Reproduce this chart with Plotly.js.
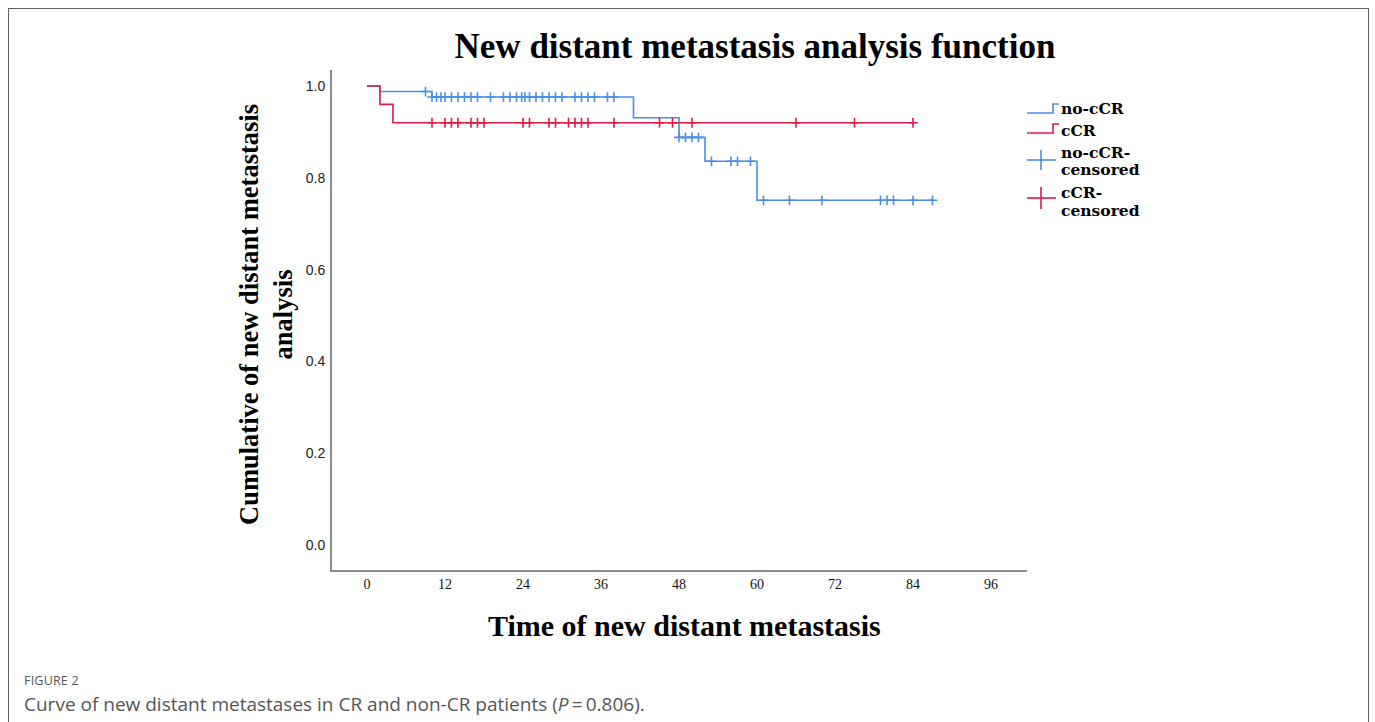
<!DOCTYPE html>
<html>
<head>
<meta charset="utf-8">
<script src="https://cdn.plot.ly/plotly-3.0.1.min.js"></script>
<style>
  html, body { margin:0; padding:0; background:#fff; width:1375px; height:722px; overflow:hidden; }
  #frame { position:absolute; left:8px; top:8px; width:1361px; height:760px; border:1px solid #626262; box-sizing:border-box; }
  #chart { position:absolute; left:0; top:0; width:1375px; height:722px; }
  .cap { position:absolute; left:24px; font-family:"Open Sans","Noto Sans",sans-serif; color:#555; white-space:nowrap; line-height:1.2; }
  #fig { top:673px; font-size:12.5px; letter-spacing:0.2px; }
  #txt { top:693px; font-size:19px; }
</style>
</head>
<body>
<div id="frame"></div>
<div id="chart"></div>
<div id="fig" class="cap">FIGURE 2</div>
<div id="txt" class="cap">Curve of new distant metastases in CR and non-CR patients (<i>P</i>&#8201;=&#8201;0.806).</div>
<script>
// ---- data ----
const noCcrEventTimes = [0, 2, 10, 41, 48, 52, 60, 87];
const noCcrSurvival   = [1.0, 0.988, 0.976, 0.931, 0.888, 0.836, 0.751, 0.751];
const noCcrCensored   = [9, 10, 10.7, 11.4, 12, 13, 14, 15, 16, 17, 19, 21, 22, 23, 23.8, 24.3, 25, 26, 27, 28, 29, 30, 32, 33, 34, 35, 37, 38, 48, 49, 50, 51, 53, 56, 57, 59, 61, 65, 70, 79, 80, 81, 84, 87];

const ccrEventTimes = [0, 2, 4, 84];
const ccrSurvival   = [1.0, 0.96, 0.92, 0.92];
const ccrCensored   = [10, 12, 13, 14, 16, 17, 18, 24, 25, 28, 29, 31, 32, 33, 34, 38, 45, 47, 50, 66, 75, 84];

const xTicks = [0, 12, 24, 36, 48, 60, 72, 84, 96];
const yTicks = [0.0, 0.2, 0.4, 0.6, 0.8, 1.0];

const BLUE = '#4a8fe2';
const RED  = '#dc1b48';

function levelAt(times, surv, t) {
  let v = surv[0];
  for (let i = 0; i < times.length; i++) { if (times[i] <= t) v = surv[i]; }
  return v;
}

const traces = [
  { x: noCcrEventTimes, y: noCcrSurvival, mode: 'lines', line: {shape: 'hv', color: BLUE, width: 1.6}, hoverinfo: 'skip', showlegend: false },
  { x: ccrEventTimes, y: ccrSurvival, mode: 'lines', line: {shape: 'hv', color: RED, width: 1.6}, hoverinfo: 'skip', showlegend: false },
  { x: noCcrCensored, y: noCcrCensored.map(t => levelAt(noCcrEventTimes, noCcrSurvival, t)), mode: 'markers',
    marker: {symbol: 'cross-thin', size: 7, line: {color: BLUE, width: 1.6}}, showlegend: false },
  { x: ccrCensored, y: ccrCensored.map(t => levelAt(ccrEventTimes, ccrSurvival, t)), mode: 'markers',
    marker: {symbol: 'cross-thin', size: 7, line: {color: RED, width: 1.6}}, showlegend: false }
];

// layout helpers: pixel -> paper
const L = 332, R = 1027, T = 70, B = 570;
const xp = px => (px - L) / (R - L);
const yp = py => (B - py) / (B - T);

const serifBold = {family: '"Liberation Serif","Times New Roman",serif', color: '#000'};
const legFont = {family: '"DejaVu Serif","Liberation Serif",serif', size: 15.5, color: '#000'};

const shapes = [
  // legend step symbols
  {type: 'path', xref: 'paper', yref: 'paper', path: `M ${xp(1027)} ${yp(113)} L ${xp(1053)} ${yp(113)} L ${xp(1053)} ${yp(104)} L ${xp(1059)} ${yp(104)}`, line: {color: BLUE, width: 1.6}},
  {type: 'path', xref: 'paper', yref: 'paper', path: `M ${xp(1027)} ${yp(133)} L ${xp(1053)} ${yp(133)} L ${xp(1053)} ${yp(124)} L ${xp(1059)} ${yp(124)}`, line: {color: RED, width: 1.6}},
  // legend censor crosses
  {type: 'line', xref: 'paper', yref: 'paper', x0: xp(1027), x1: xp(1056), y0: yp(160), y1: yp(160), line: {color: BLUE, width: 1.6}},
  {type: 'line', xref: 'paper', yref: 'paper', x0: xp(1041), x1: xp(1041), y0: yp(150), y1: yp(170), line: {color: BLUE, width: 1.6}},
  {type: 'line', xref: 'paper', yref: 'paper', x0: xp(1027), x1: xp(1056), y0: yp(198), y1: yp(198), line: {color: RED, width: 1.6}},
  {type: 'line', xref: 'paper', yref: 'paper', x0: xp(1041), x1: xp(1041), y0: yp(187), y1: yp(209), line: {color: RED, width: 1.6}}
];

function legText(text, py) {
  return {text: '<b>' + text + '</b>', xref: 'paper', yref: 'paper', x: xp(1059), y: yp(py),
          xanchor: 'left', yanchor: 'middle', showarrow: false, font: legFont, align: 'left'};
}

const annotations = [
  legText('no-cCR', 109),
  legText('cCR', 130),
  legText('no-cCR-', 152),
  legText('censored', 170),
  legText('cCR-', 192),
  legText('censored', 210),
  {text: '<b>Time of new distant metastasis</b>', xref: 'paper', yref: 'paper', x: xp(684), y: yp(625),
   xanchor: 'center', yanchor: 'middle', showarrow: false, font: Object.assign({size: 30}, serifBold)},
  {text: '<b>Cumulative of new distant metastasis<br>analysis</b>', xref: 'paper', yref: 'paper', x: xp(266), y: yp(315),
   xanchor: 'center', yanchor: 'middle', showarrow: false, textangle: -90, font: Object.assign({size: 26.5}, serifBold)}
];

const layout = {
  width: 1375, height: 722,
  margin: {l: L, r: 1375 - R, t: T, b: 722 - B, pad: 0},
  paper_bgcolor: 'rgba(0,0,0,0)', plot_bgcolor: '#fff',
  showlegend: false,
  title: {text: '<b>New distant metastasis analysis function</b>', xref: 'container', yref: 'container',
          x: 755 / 1375, xanchor: 'center', y: 1 - 46 / 722, yanchor: 'middle',
          font: Object.assign({size: 35}, serifBold)},
  xaxis: {range: [-5.38, 101.54], tickvals: xTicks, ticktext: xTicks.map(String), showgrid: false, zeroline: false,
          showline: true, linecolor: '#8c8c8c', linewidth: 2, ticks: '', ticklabelstandoff: 0,
          tickfont: {family: '"Liberation Serif","Times New Roman",serif', size: 14, color: '#111'}},
  yaxis: {range: [-0.0545, 1.0349], tickvals: yTicks, ticktext: yTicks.map(v => v.toFixed(1)), showgrid: false, zeroline: false,
          showline: true, linecolor: '#8c8c8c', linewidth: 2, ticks: '', ticklabelstandoff: 2,
          tickfont: {family: '"Liberation Sans",Arial,sans-serif', size: 14, color: '#222'}},
  shapes: shapes,
  annotations: annotations
};

Plotly.newPlot('chart', traces, layout, {displayModeBar: false, staticPlot: true});
</script>
</body>
</html>
